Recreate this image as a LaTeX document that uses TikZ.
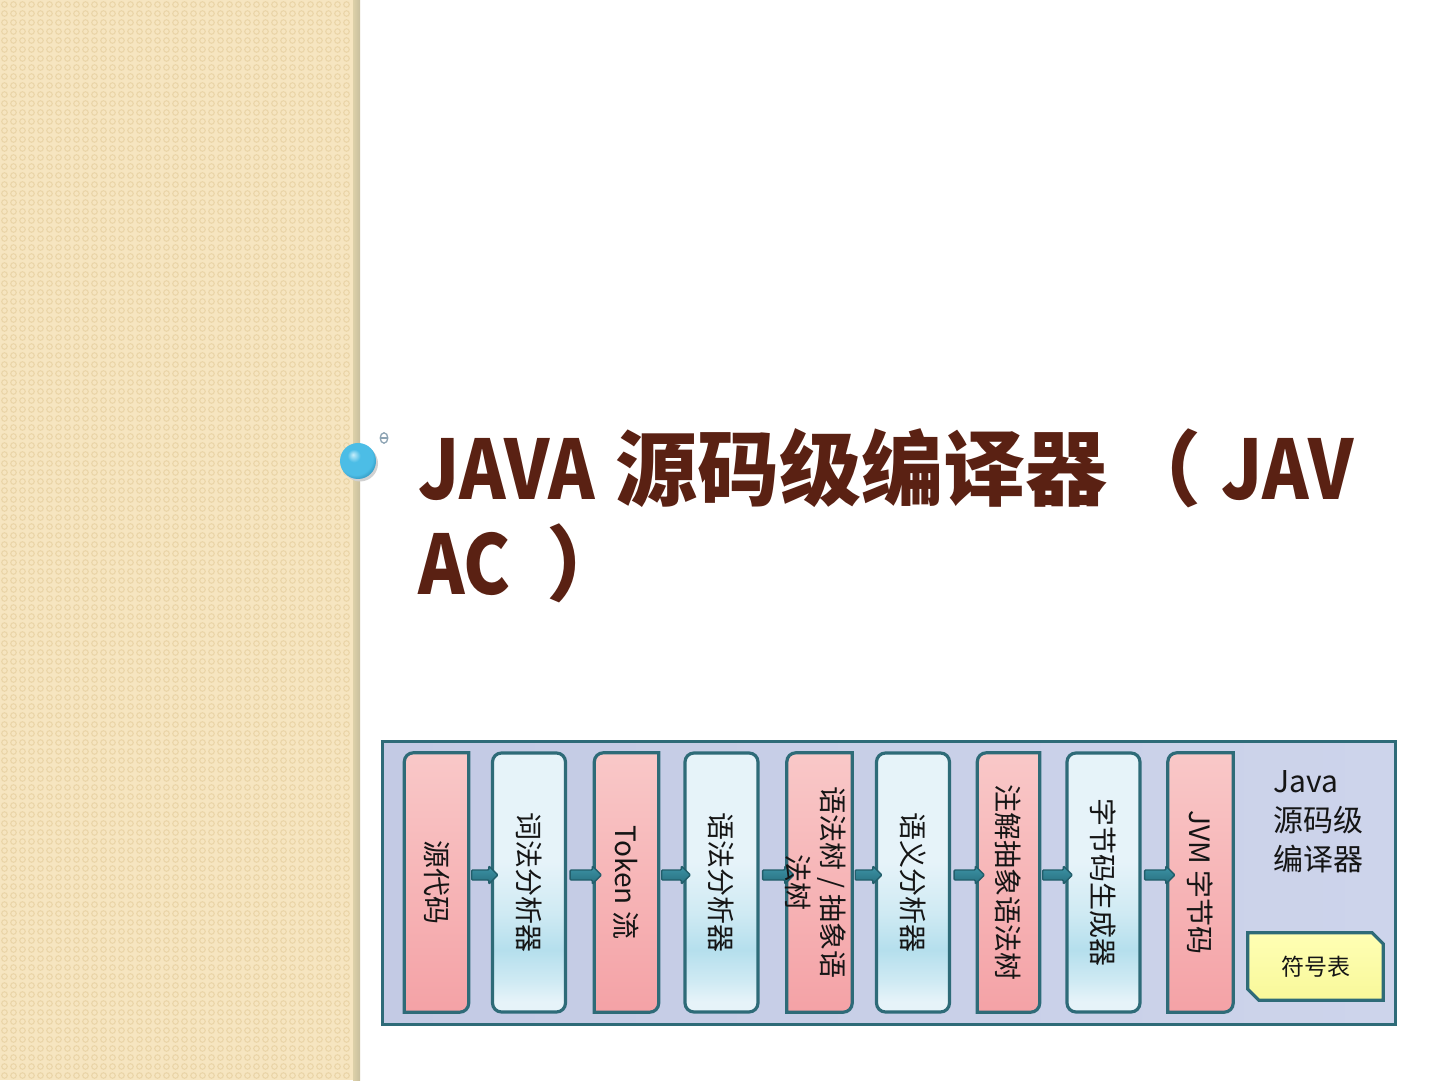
\documentclass[tikz,border=0pt]{standalone}
\usepackage{fontspec}
\usepackage{graphicx}
\setmainfont{Noto Sans CJK SC}
\newfontfamily\cjk{Noto Sans CJK SC}
\usetikzlibrary{calc}
\definecolor{panelbg}{HTML}{F6E5C0}
\definecolor{panelring}{HTML}{EAD5A8}
\definecolor{stripA}{HTML}{DDD0A8}
\definecolor{stripB}{HTML}{C8BF9E}
\definecolor{ballc}{HTML}{4CBDE6}
\definecolor{titlec}{HTML}{5A2113}
\definecolor{framefillA}{HTML}{C3CAE4}
\definecolor{framefillB}{HTML}{CDD4EB}
\definecolor{tealc}{HTML}{2E6B78}
\definecolor{pkT}{HTML}{F9C8C8}
\definecolor{pkB}{HTML}{F4A2A6}
\definecolor{bwl}{HTML}{E6F3F9}
\definecolor{bwm}{HTML}{CFEAF3}
\definecolor{bwp}{HTML}{B5DFED}
\definecolor{arT}{HTML}{3D94A6}
\definecolor{arB}{HTML}{276E7E}
\definecolor{arD}{HTML}{225E6B}
\definecolor{txtc}{HTML}{151515}
\definecolor{symT}{HTML}{FFFFB4}
\definecolor{symB}{HTML}{F8F89A}
\definecolor{glyphc}{HTML}{8CA3B3}
\definecolor{ballhi}{HTML}{C8EEFA}
\definecolor{balldk}{HTML}{2A8DB5}
\pgfdeclareverticalshading{bwave}{100bp}{color(0bp)=(bwl); color(27bp)=(bwl); color(31bp)=(bwm); color(37bp)=(bwp); color(44bp)=(bwm); color(54bp)=(bwl); color(100bp)=(bwl)}
\pgfdeclareradialshading{myball}{\pgfpoint{-7bp}{9bp}}{color(0bp)=(ballhi); color(9bp)=(ballc); color(24bp)=(ballc); color(32bp)=(balldk); color(50bp)=(balldk)}
\newcommand\pinkshape[1]{%
  \draw[pinkfill] (#1.south west) -- ([yshift=-9pt]#1.north west) arc[start angle=180,end angle=90,radius=9pt] -- (#1.north east) -- ([yshift=9pt]#1.south east) arc[start angle=0,end angle=-90,radius=9pt] -- cycle;}
\newcommand\blockarrow[2]{%
  \draw[arr] let \p1=(#1.east), \p2=(#2.west) in
    (\x1+3pt,\y1+2.5pt) -- (\x1+3pt,\y1+12.5pt) -- (\x2-2pt,\y1+12.5pt) -- (\x2-2pt,\y1+16.5pt)
    -- (\x2+7pt,\y1+7.5pt) -- (\x2-2pt,\y1-1.5pt) -- (\x2-2pt,\y1+2.5pt) -- cycle;}
\newcommand\narrowlat[1]{\scalebox{0.86}[1]{#1}}
\begin{document}
\begin{tikzpicture}[x=1pt,y=1pt,
  boxnode/.style={draw=none,minimum height=259pt,inner sep=0pt},
  bluebox/.style={draw=tealc,line width=3.2pt,rounded corners=9pt,shading=bwave,minimum height=259pt,minimum width=73pt,inner sep=0pt},
  pinkfill/.style={draw=tealc,line width=3.2pt,top color=pkT,bottom color=pkB},
  arr/.style={draw=arD,line width=1.4pt,top color=arT,bottom color=arB,rounded corners=1pt},
  lbl/.style={rotate=-90,font=\cjk\fontsize{28}{35}\selectfont,text=txtc,align=center,inner sep=0pt},
  titlestyle/.style={font=\cjk\bfseries\fontsize{82}{95}\selectfont,text=titlec,inner sep=0pt}]
\useasboundingbox (0,0) rectangle (1440,1080);
\fill[white] (0,0) rectangle (1440,1080);
% left decorative panel
\fill[panelbg] (0,0) rectangle (353,1080);
\foreach \i in {0,...,38}{
  \draw[panelring,line width=1.1pt] \foreach \j in {0,...,119}{ (\i*9+4.5,\j*9+4.5) circle[radius=2.8] };
}
\fill[left color=stripA,right color=stripB] (353,0) rectangle (360,1080);
% bullet
\fill[black!18] (360,616.5) circle[radius=18];
\shade[shading=myball] (358,619) circle[radius=18];
\draw[glyphc,line width=1.3pt] (384,642) ellipse[x radius=3.8,y radius=5.2];
\draw[glyphc,line width=1.1pt] (380.5,642) -- (387.5,642);
% title
\node[titlestyle,anchor=base west] (t1) at (418,580) {\narrowlat{JAVA}\hspace{2pt} 源码级编译器\hspace{12pt}（\hspace{20pt}\narrowlat{JAV}};
\node[titlestyle,anchor=base west] (t2) at (418,485) {\narrowlat{AC}\hspace{36pt}）};
% frame
\node[draw=tealc,line width=3pt,left color=framefillA,right color=framefillB,minimum width=1013pt,minimum height=283pt,inner sep=0pt] (frame) at (888.5,197.5) {};
% boxes
\node[boxnode,minimum width=64pt] (b1) at (436.5,197.5) {};
\node[bluebox] (b2) at (529,197.5) {};
\node[boxnode,minimum width=64pt] (b3) at (626.5,197.5) {};
\node[bluebox] (b4) at (721.5,197.5) {};
\node[boxnode,minimum width=65pt] (b5) at (819.5,197.5) {};
\node[bluebox] (b6) at (913,197.5) {};
\node[boxnode,minimum width=62pt] (b7) at (1008.5,197.5) {};
\node[bluebox] (b8) at (1103.5,197.5) {};
\node[boxnode,minimum width=65pt] (b9) at (1200.5,197.5) {};
\pinkshape{b1}\pinkshape{b3}\pinkshape{b5}\pinkshape{b7}\pinkshape{b9}
% arrows
\blockarrow{b1}{b2}\blockarrow{b2}{b3}\blockarrow{b3}{b4}\blockarrow{b4}{b5}
\blockarrow{b5}{b6}\blockarrow{b6}{b7}\blockarrow{b7}{b8}\blockarrow{b8}{b9}
% labels
\node[lbl] (l1) at (b1) {源代码};
\node[lbl] (l2) at (b2) {词法分析器};
\node[lbl] (l3) at (b3) {Token 流};
\node[lbl] (l4) at (b4) {语法分析器};
\node[lbl] (l5) at ([xshift=-4pt]b5.center) {语法树 / 抽象语\\法树};
\node[lbl] (l6) at (b6) {语义分析器};
\node[lbl] (l7) at (b7) {注解抽象语法树};
\node[lbl] (l8) at (b8) {字节码生成器};
\node[lbl] (l9) at (b9) {JVM 字节码};
% right label
\node[anchor=north west,align=left,font=\cjk\fontsize{30}{39}\selectfont,text=txtc,inner sep=0pt] (jl) at (1273,310) {Java\\源码级\\编译器};
% symbol table
\node[draw=none,minimum width=135pt,minimum height=67pt,inner sep=0pt] (sym) at (1315.5,113.5) {};
\draw[draw=tealc,line width=3.2pt,top color=symT,bottom color=symB]
  (sym.north west) -- ([xshift=-11pt]sym.north east) -- ([yshift=-11pt]sym.north east) -- (sym.south east)
  -- ([xshift=11pt]sym.south west) -- ([yshift=11pt]sym.south west) -- cycle;
\node[font=\cjk\fontsize{23}{28}\selectfont,text=txtc,inner sep=0pt] (symt) at (sym) {符号表};
\end{tikzpicture}
\end{document}
